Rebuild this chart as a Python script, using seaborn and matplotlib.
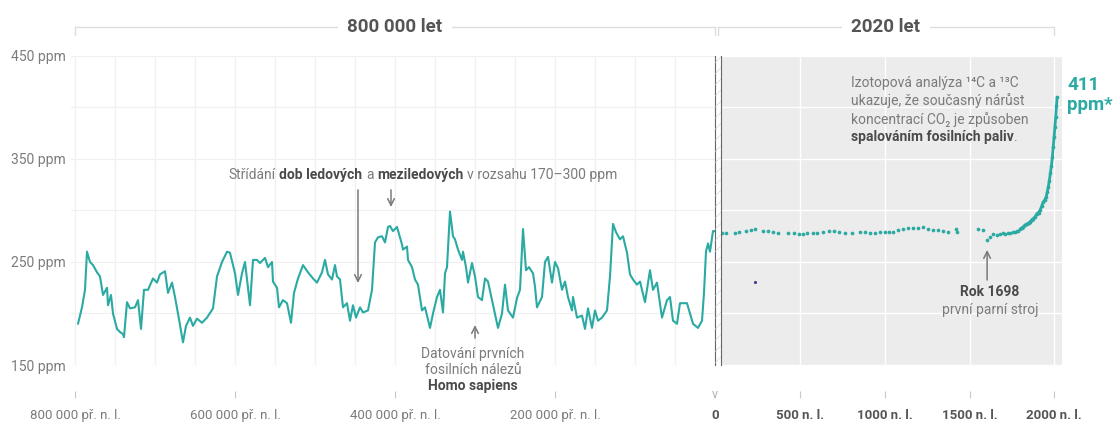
import numpy as np
import pandas as pd
import matplotlib.pyplot as plt
import seaborn as sns
from matplotlib.patches import Rectangle

# --- data ---
# ice cores, last 800 000 years (year, ppm)
ice_years = [-796250, -791250, -787500, -785000, -781250, -777500, -772500, -768750, -765000, -760000,
             -758750, -755000, -752500, -747500, -743750, -740000, -738750, -735000, -731250, -725000,
             -721250, -717500, -713750, -708750, -702500, -697500, -693750, -687500, -683750, -678750,
             -675000, -671250, -665000, -661250, -656250, -652500, -647500, -641250, -635000, -627500,
             -622500, -616250, -610000, -606250, -600000, -596250, -591250, -587500, -585000, -581250,
             -577500, -572500, -568750, -562500, -558750, -553750, -552500, -547500, -545000, -540000,
             -535000, -530000, -526250, -521250, -515000, -508750, -502500, -497500, -491250, -487500,
             -483750, -478750, -475000, -472500, -468750, -465000, -460000, -456250, -452500, -448750,
             -443750, -440000, -433750, -428750, -425000, -421250, -416250, -412500, -408750, -406250,
             -402500, -397500, -393750, -391250, -390000, -385000, -383750, -378750, -375000, -371250,
             -366250, -362500, -356250, -352500, -347500, -343750, -340000, -337500, -335000, -331250,
             -327500, -325000, -321250, -316250, -315000, -311250, -308750, -303750, -300000, -296250,
             -291250, -287500, -283750, -278750, -275000, -271250, -266250, -262500, -258750, -252500,
             -247500, -243750, -240000, -236250, -232500, -227500, -225000, -222500, -216250, -212500,
             -208750, -203750, -200000, -196250, -191250, -187500, -183750, -178750, -177500, -172500,
             -166250, -162500, -158750, -153750, -150000, -146250, -141250, -135000, -131250, -127500,
             -123750, -118750, -115000, -110000, -106250, -102500, -97500, -93750, -87500, -81250,
             -77500, -72500, -66250, -60000, -56250, -52500, -47500, -43750, -35000, -27500,
             -21250, -16250, -13750, -11250, -8750, -6250, -2500, 0]
ice_ppm = [190, 206, 223, 260, 250, 247, 240, 236, 218, 225,
           208, 218, 200, 185, 182, 180, 177, 211, 205, 206,
           213, 185, 223, 223, 234, 230, 238, 241, 220, 230,
           216, 200, 172, 188, 196, 188, 195, 191, 196, 205,
           236, 250, 260, 259, 239, 218, 239, 250, 233, 208,
           252, 252, 249, 254, 245, 250, 231, 225, 206, 213,
           210, 191, 220, 234, 247, 240, 234, 230, 240, 252,
           238, 233, 247, 236, 233, 206, 210, 193, 208, 196,
           206, 201, 203, 223, 269, 274, 275, 269, 284, 285,
           280, 284, 274, 267, 262, 265, 252, 245, 233, 228,
           203, 206, 186, 200, 216, 223, 201, 239, 245, 299,
           275, 272, 262, 252, 260, 245, 230, 249, 236, 216,
           213, 234, 231, 213, 200, 186, 200, 228, 203, 196,
           215, 223, 282, 242, 245, 239, 226, 206, 216, 250,
           255, 230, 250, 244, 223, 231, 216, 203, 216, 196,
           198, 185, 205, 186, 203, 193, 196, 203, 236, 287,
           279, 272, 275, 259, 238, 233, 228, 231, 211, 242,
           223, 230, 196, 213, 216, 193, 190, 210, 210, 190,
           186, 193, 220, 260, 268, 260, 280, 280]

# last 2020 years (year AD, ppm)
recent_years = [36, 59, 112, 136, 178, 207, 231, 278, 308, 337,
                367, 426, 462, 491, 515, 538, 574, 598, 633, 669,
                698, 728, 763, 805, 852, 882, 911, 941, 970, 1000,
                1024, 1047, 1077, 1107, 1136, 1166, 1195, 1225, 1254, 1284,
                1314, 1343, 1373, 1420, 1426, 1550, 1580, 1604, 1621, 1639,
                1663, 1680, 1698, 1710, 1725, 1740, 1755, 1769, 1780, 1787,
                1799, 1808, 1817, 1828, 1840, 1850, 1858, 1868, 1876, 1888,
                1899, 1908, 1917, 1926, 1935, 1944, 1953, 1960, 1966, 1972,
                1978, 1984, 1990, 1995, 2000, 2005, 2010, 2014, 2018]
recent_ppm = [278.4, 278.4, 278.4, 279.1, 280.4, 281.1, 281.7, 280.4, 279.8, 279.1,
              277.8, 277.8, 277.8, 277.2, 277.2, 277.8, 278.4, 277.8, 279.1, 279.8,
              280.4, 279.1, 278.4, 278.4, 279.4, 279.4, 278.5, 278.5, 279.4, 279.4,
              278.8, 279.4, 281.0, 281.7, 282.7, 283.3, 282.7, 283.7, 281.7, 281.0,
              281.0, 280.1, 279.4, 282.0, 279.0, 281.7, 281.0, 271.0, 274.0, 277.0,
              276.0, 277.0, 278.0, 277.5, 278.5, 278.0, 279.0, 279.0, 280.0, 280.0,
              282.0, 283.0, 284.0, 286.0, 287.0, 288.0, 289.0, 291.0, 292.0, 294.0,
              297.0, 298.0, 300.0, 304.0, 308.0, 310.0, 313.0, 318.0, 323.0, 329.0,
              336.0, 343.0, 352.0, 362.0, 371.0, 381.0, 391.0, 401.0, 410.0]

stray_year = [231]
stray_ppm = [230.6]

left_ticks = [-800000, -600000, -400000, -200000, 0]
left_labels = ['800 000 př. n. l.', '600 000 př. n. l.', '400 000 př. n. l.', '200 000 př. n. l.', '0']
right_ticks = [500, 1000, 1500, 2000]
right_labels = ['500 n. l.', '1000 n. l.', '1500 n. l.', '2000 n. l.']
y_ticks = [150, 250, 350, 450]
y_labels = ['150 ppm', '250 ppm', '350 ppm', '450 ppm']

teal = '#2aaaa2'
grey = '#7b7b7b'
dark = '#4a4a4a'

sns.set_theme(style='whitegrid')
plt.rcParams['font.family'] = ['Roboto', 'DejaVu Sans']
plt.rcParams['hatch.linewidth'] = 0.4

fig = plt.figure(figsize=(11.13, 4.23), dpi=100)
ax1 = fig.add_axes([71 / 1113, 58 / 423, 644 / 1113, 309 / 423])
ax2 = fig.add_axes([721 / 1113, 58 / 423, 341 / 1113, 309 / 423])

ice = pd.DataFrame({'year': ice_years, 'ppm': ice_ppm})
recent = pd.DataFrame({'year': recent_years, 'ppm': recent_ppm})

# left panel: 800 000 years
sns.lineplot(data=ice, x='year', y='ppm', ax=ax1, color=teal, lw=1.5, estimator=None)
ax1.set_xlim(-805000, 0)
ax1.set_ylim(150, 450)
ax1.set_xticks(left_ticks, left_labels)
ax1.set_xticks(np.arange(-800000, 0, 50000), minor=True)
ax1.set_yticks(y_ticks, y_labels)
ax1.set_yticks([200, 300, 400], minor=True)
ax1.grid(which='both', color='#f0f0f0', lw=0.9)
ax1.set_xlabel('')
ax1.set_ylabel('')

# right panel: 2020 years
ax2.set_facecolor('#ececec')
sns.scatterplot(data=recent, x='year', y='ppm', ax=ax2, color=teal, s=7, linewidth=0)
sns.lineplot(data=recent[recent['year'] >= 1790], x='year', y='ppm', ax=ax2,
             color=teal, lw=2, estimator=None)
sns.scatterplot(x=stray_year, y=stray_ppm, ax=ax2, color='#3b3f8f', s=5, linewidth=0)
ax2.set_xlim(30, 2047)
ax2.set_ylim(150, 450)
ax2.set_xticks(right_ticks, right_labels)
ax2.set_yticks([150, 200, 250, 300, 350, 400, 450])
ax2.grid(which='major', color='white', lw=1)
ax2.set_xlabel('')
ax2.set_ylabel('')

for ax in (ax1, ax2):
    for side in ('top', 'left', 'right'):
        ax.spines[side].set_visible(False)
    ax.spines['bottom'].set_position(('outward', 19))
    ax.spines['bottom'].set_color('none')
    ax.tick_params(axis='x', which='major', bottom=True, length=5, width=0.8, color='#c8c8c8',
                   direction='out', pad=8, labelsize=9.5, labelcolor=grey)
    ax.tick_params(axis='both', which='minor', length=0)
ax1.tick_params(axis='y', left=False, length=0, pad=4, labelsize=10, labelcolor=grey)
ax2.tick_params(axis='y', left=False, labelleft=False, length=0)

# separator between the panels
ax1.spines['right'].set_visible(True)
ax1.spines['right'].set_color('#666666')
ax1.spines['right'].set_linewidth(0.8)
ax2.spines['left'].set_visible(True)
ax2.spines['left'].set_color('#666666')
ax2.spines['left'].set_linewidth(0.8)
fig.patches.append(Rectangle((715 / 1113, 58 / 423), 6 / 1113, 309 / 423, transform=fig.transFigure,
                             fill=False, hatch='///', edgecolor='#cfcfcf', lw=0))

# tick "0": chevron instead of a line, bold label
ax1.xaxis.get_major_ticks()[-1].tick1line.set_visible(False)
ax1.text(0, -0.095, 'v', transform=ax1.get_xaxis_transform(), ha='center', va='center',
         fontsize=9, color='#b0b0b0', clip_on=False)
zero = ax1.get_xticklabels()[-1]
zero.set_fontweight('bold')
zero.set_color('#555555')
for lab in ax2.get_xticklabels():
    lab.set_fontweight('bold')
    lab.set_color('#555555')

# headers with bracket lines
def header(ax, x0, x1, label):
    tr = ax.get_xaxis_transform()
    yl = 1.094
    ax.plot([x0, x1], [yl, yl], color='#dddddd', lw=1, transform=tr, clip_on=False)
    ax.plot([x0, x0], [yl, yl - 0.025], color='#dddddd', lw=1, transform=tr, clip_on=False)
    ax.plot([x1, x1], [yl, yl - 0.025], color='#dddddd', lw=1, transform=tr, clip_on=False)
    ax.text((x0 + x1) / 2, yl, label, transform=tr, ha='center', va='center', fontsize=13.5,
            fontweight='bold', color='#555555',
            bbox=dict(facecolor='white', edgecolor='none', pad=7))

header(ax1, -800000, 0, '800 000 let')
header(ax2, 10, 2000, '2020 let')

arrow = dict(arrowstyle='->', color='#7a7a7a', lw=1.1, shrinkA=0, shrinkB=0)

# glacial / interglacial note
t = ax1.text(-608750, 334.5, 'Střídání', color=grey, fontsize=10, va='center', ha='left')
t = ax1.annotate('dob ledových', xy=(1, 0), xycoords=t, xytext=(2.8, 0), textcoords='offset points',
                 va='bottom', ha='left', color=dark, fontsize=10, fontweight='bold')
t = ax1.annotate('a', xy=(1, 0), xycoords=t, xytext=(2.8, 0), textcoords='offset points',
                 va='bottom', ha='left', color=grey, fontsize=10)
t = ax1.annotate('meziledových', xy=(1, 0), xycoords=t, xytext=(2.8, 0), textcoords='offset points',
                 va='bottom', ha='left', color=dark, fontsize=10, fontweight='bold')
t = ax1.annotate('v rozsahu 170–300 ppm', xy=(1, 0), xycoords=t, xytext=(2.8, 0), textcoords='offset points',
                 va='bottom', ha='left', color=grey, fontsize=10)
ax1.annotate('', xy=(-446250, 229.6), xytext=(-446250, 320), arrowprops=arrow)
ax1.annotate('', xy=(-405000, 303.4), xytext=(-405000, 320), arrowprops=arrow)

# Homo sapiens note
ax1.annotate('', xy=(-300000, 188.8), xytext=(-300000, 176.2), arrowprops=arrow)
ax1.text(-302500, 160.7, 'Datování prvních', color=grey, fontsize=10, ha='center', va='center', clip_on=False)
ax1.text(-302500, 145.1, 'fosilních nálezů', color=grey, fontsize=10, ha='center', va='center', clip_on=False)
ax1.text(-302500, 129.6, 'Homo sapiens', color=dark, fontsize=10, fontweight='bold',
         ha='center', va='center', clip_on=False)

# isotope note
ax2.text(799, 423.8, 'Izotopová analýza ¹⁴C a ¹³C', color=grey, fontsize=10, ha='left', va='center')
ax2.text(799, 406.3, 'ukazuje, že současný nárůst', color=grey, fontsize=10, ha='left', va='center')
ax2.text(799, 388.8, 'koncentrací CO₂ je způsoben', color=grey, fontsize=10, ha='left', va='center')
t = ax2.text(799, 371.4, 'spalováním fosilních paliv', color=dark, fontsize=10, fontweight='bold',
             ha='left', va='center')
ax2.annotate('.', xy=(1, 0), xycoords=t, va='bottom', ha='left', color=grey, fontsize=10)

# current value
ax2.text(2077, 422, '411', color=teal, fontsize=13.5, fontweight='bold', ha='left', va='center', clip_on=False)
ax2.text(2077, 402.4, 'ppm*', color=teal, fontsize=13.5, fontweight='bold', ha='left', va='center', clip_on=False)

# steam engine note
ax2.annotate('', xy=(1604, 261.7), xytext=(1604, 232.5), arrowprops=arrow)
ax2.text(1621, 220.9, 'Rok 1698', color=dark, fontsize=10, fontweight='bold', ha='center', va='center')
ax2.text(1621, 203.4, 'první parní stroj', color=grey, fontsize=10, ha='center', va='center')

fig.savefig('out.png', dpi=100)
